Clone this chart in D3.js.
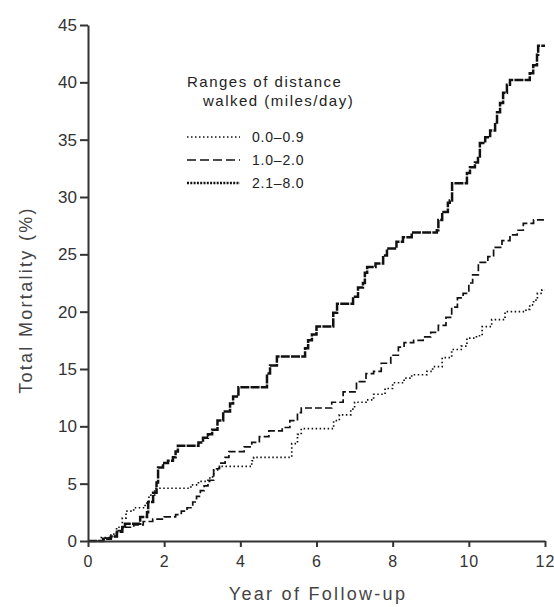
<!DOCTYPE html>
<html>
<head>
<meta charset="utf-8">
<script src="https://cdn.jsdelivr.net/npm/d3@7"></script>
<style>
    body { margin: 0; background: #fff; }
    text { font-family: "Liberation Sans", Arial, sans-serif; fill: #222; }
</style>
</head>
<body>
<div id="chart"></div>
<script>
// Kaplan-Meier style data (year, cumulative mortality %)
var walk09Years = [0, 0.35, 0.6, 0.75, 0.9, 1.0, 1.2, 1.5, 1.6, 1.75, 2.7, 2.9, 3.2, 3.3, 3.45, 4.3, 4.35, 5.35, 5.5, 5.6, 6.45, 6.6, 6.9, 7.0, 7.3, 7.5, 7.8, 8.0, 8.3, 8.5, 8.9, 9.05, 9.3, 9.55, 9.8, 9.95, 10.2, 10.35, 10.6, 10.95, 11.5, 11.6, 11.7, 11.8, 11.92, 12.0];
var walk09Pct = [0, 0.3, 0.6, 1.2, 2.0, 2.6, 2.9, 3.3, 4.0, 4.6, 4.9, 5.2, 5.6, 6.2, 6.5, 7.0, 7.3, 8.5, 9.3, 9.8, 10.5, 11.0, 11.5, 12.1, 12.3, 12.8, 13.3, 13.8, 14.2, 14.5, 14.8, 15.2, 16.0, 16.7, 17.0, 17.7, 17.9, 18.7, 19.3, 20.0, 20.2, 20.6, 21.0, 21.6, 21.9, 21.9];

var walk20Years = [0, 0.45, 0.6, 0.75, 0.9, 1.2, 1.45, 1.7, 2.0, 2.3, 2.45, 2.6, 2.75, 2.85, 2.95, 3.05, 3.15, 3.3, 3.45, 3.6, 3.7, 4.1, 4.3, 4.5, 4.75, 5.1, 5.3, 5.5, 5.6, 6.4, 6.7, 7.05, 7.3, 7.5, 7.7, 7.95, 8.15, 8.3, 8.55, 8.8, 9.0, 9.2, 9.4, 9.55, 9.7, 9.85, 10.0, 10.1, 10.25, 10.5, 10.65, 10.87, 11.08, 11.27, 11.43, 11.7, 12.0];
var walk20Pct = [0, 0.25, 0.4, 0.9, 1.2, 1.4, 1.7, 1.9, 2.1, 2.3, 2.6, 2.9, 3.4, 3.9, 4.4, 4.8, 5.3, 6.3, 6.8, 7.3, 7.8, 8.2, 8.6, 9.1, 9.6, 9.9, 10.5, 11.2, 11.6, 12.1, 13.0, 13.9, 14.6, 14.8, 15.5, 16.2, 16.9, 17.3, 17.5, 17.8, 18.2, 18.8, 19.5, 20.4, 21.2, 21.6, 22.5, 23.2, 24.3, 24.8, 25.6, 26.2, 26.7, 27.1, 27.7, 28.0, 28.0];

var walk80Years = [0, 0.4, 0.6, 0.76, 0.9, 0.97, 1.37, 1.55, 1.58, 1.71, 1.8, 1.84, 1.97, 2.1, 2.23, 2.3, 2.36, 2.9, 3.02, 3.15, 3.26, 3.4, 3.55, 3.73, 3.81, 3.95, 4.7, 4.78, 4.96, 5.7, 5.78, 5.88, 6.0, 6.44, 6.54, 6.96, 7.09, 7.22, 7.27, 7.33, 7.55, 7.75, 7.85, 8.1, 8.27, 8.5, 9.16, 9.2, 9.3, 9.45, 9.5, 9.56, 9.95, 10.03, 10.16, 10.24, 10.29, 10.43, 10.56, 10.69, 10.74, 10.82, 10.9, 11.0, 11.08, 11.6, 11.69, 11.79, 11.82, 12.0];
var walk80Pct = [0, 0.2, 0.4, 0.8, 1.2, 1.5, 2.1, 2.5, 3.4, 4.2, 5.1, 6.4, 6.8, 7.0, 7.3, 7.8, 8.3, 8.6, 9.0, 9.3, 9.7, 10.5, 11.3, 12.0, 12.6, 13.4, 14.6, 15.3, 16.1, 16.8, 17.5, 18.0, 18.7, 19.9, 20.7, 21.3, 22.1, 22.5, 23.4, 23.9, 24.2, 24.9, 25.5, 26.1, 26.5, 26.9, 27.1, 28.0, 28.7, 29.5, 29.7, 31.2, 32.1, 32.6, 33.0, 33.4, 34.7, 35.2, 35.8, 36.5, 37.4, 38.2, 39.1, 39.8, 40.2, 40.8, 41.5, 42.4, 43.2, 43.2];

var seriesNames = ["0.0\u20130.9", "1.0\u20132.0", "2.1\u20138.0"];
var xTicks = [0, 2, 4, 6, 8, 10, 12];
var yTicks = [0, 5, 10, 15, 20, 25, 30, 35, 40, 45];

var chartWidth = 554,
    chartHeight = 607,
    plotLeft = 88,
    plotRight = 545,
    plotTop = 25,
    plotBottom = 541;

var svg = d3.select("#chart")
    .append("svg")
    .attr("width", chartWidth)
    .attr("height", chartHeight);

var x = d3.scaleLinear().domain([0, 12]).range([plotLeft, plotRight]);
var y = d3.scaleLinear().domain([0, 45]).range([plotBottom, plotTop]);

// line styles for each walking group (legend and plot share them)
var styles = [
    { dash: "1.5,2.5", width: 1.7 },
    { dash: "7,3", width: 1.7 },
    { dash: "9,1.2", width: 2.5 }
];
var legendDash = ["1.5,2.5", "9,4", "2,1.3"];

var series = [
    d3.zip(walk09Years, walk09Pct),
    d3.zip(walk20Years, walk20Pct),
    d3.zip(walk80Years, walk80Pct)
];

var line = d3.line()
    .x(d => x(d[0]))
    .y(d => y(d[1]))
    .curve(d3.curveStepAfter);

// draw the survival curves
svg.selectAll(".curve")
    .data(series)
    .enter()
    .append("path")
    .attr("class", "curve")
    .attr("d", line)
    .style("fill", "none")
    .style("stroke", "#111")
    .style("stroke-width", (d, i) => styles[i].width)
    .style("stroke-dasharray", (d, i) => styles[i].dash);

// axes
var xAxis = d3.axisBottom(x).tickValues(xTicks).tickSize(6).tickSizeOuter(0);
var yAxis = d3.axisLeft(y).tickValues(yTicks).tickSize(8).tickSizeOuter(0);

var gx = svg.append("g")
    .attr("transform", "translate(0," + plotBottom + ")")
    .call(xAxis);

var gy = svg.append("g")
    .attr("transform", "translate(" + plotLeft + ",0)")
    .call(yAxis);

[gx, gy].forEach(function (g) {
    g.selectAll("path, line").style("stroke", "#333").style("stroke-width", 2);
    g.selectAll("text")
        .style("font-family", "'Liberation Sans', Arial, sans-serif")
        .style("font-size", "17px")
        .style("fill", "#333");
});
gx.selectAll("text").attr("y", 15).style("font-size", "16px").style("letter-spacing", "1px");
gy.selectAll("text").attr("x", -11);

// axis titles
svg.append("text")
    .attr("x", 318)
    .attr("y", 600)
    .attr("text-anchor", "middle")
    .style("font-size", "18px")
    .style("letter-spacing", "2.3px")
    .style("fill", "#444")
    .text("Year of Follow-up");

svg.append("text")
    .attr("transform", "translate(32,300) rotate(-90)")
    .attr("text-anchor", "middle")
    .style("font-size", "18px")
    .style("letter-spacing", "2.3px")
    .style("fill", "#444")
    .text("Total Mortality (%)");

// legend
var legend = svg.append("g").attr("class", "legend");

legend.append("text")
    .attr("x", 187)
    .attr("y", 87)
    .style("font-size", "15px")
    .style("letter-spacing", "1.5px")
    .style("fill", "#222")
    .text("Ranges of distance");

legend.append("text")
    .attr("x", 203)
    .attr("y", 106)
    .style("font-size", "15px")
    .style("letter-spacing", "1.5px")
    .style("fill", "#222")
    .text("walked (miles/day)");

var rows = legend.selectAll(".row")
    .data(seriesNames)
    .enter()
    .append("g")
    .attr("class", "row")
    .attr("transform", (d, i) => "translate(0," + (137 + i * 23) + ")");

rows.append("line")
    .attr("x1", 187)
    .attr("x2", 240)
    .style("stroke", "#111")
    .style("stroke-width", (d, i) => styles[i].width)
    .style("stroke-dasharray", (d, i) => legendDash[i]);

rows.append("text")
    .attr("x", 252)
    .attr("dy", "0.36em")
    .style("font-size", "14px")
    .style("letter-spacing", "0.8px")
    .style("fill", "#222")
    .text(d => d);
</script>
</body>
</html>
